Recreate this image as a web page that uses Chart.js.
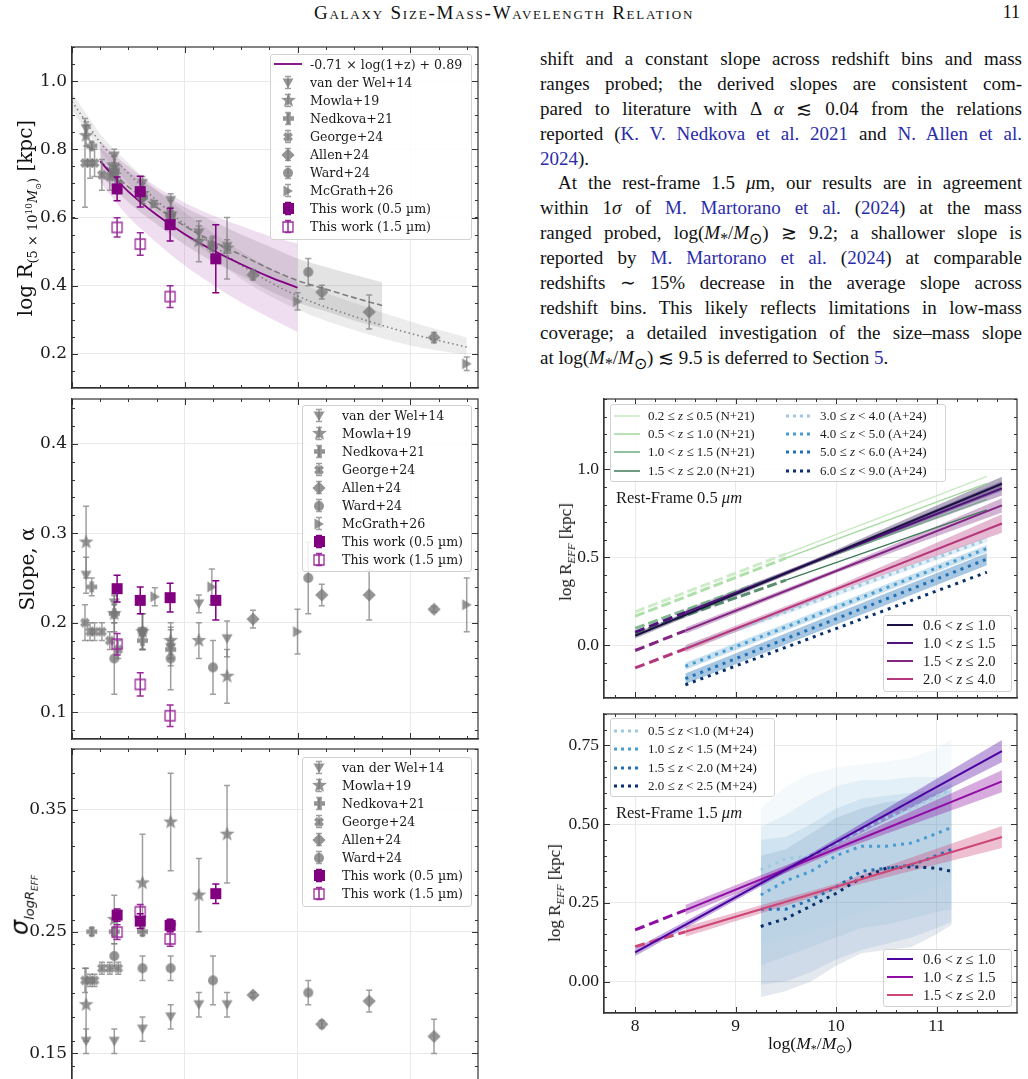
<!DOCTYPE html>
<html><head><meta charset="utf-8">
<script src="https://cdn.jsdelivr.net/npm/chart.js@4.4.1/dist/chart.umd.min.js"></script>
<style>
html,body{margin:0;padding:0;width:1028px;height:1079px;overflow:hidden;background:#fff;}
body{position:relative;font-family:'Liberation Serif',serif;color:#111;}
canvas{position:absolute;}
.abs{position:absolute;white-space:nowrap;}
.legend{position:absolute;background:rgba(255,255,255,0.85);border:1px solid #d2d2d2;border-radius:3px;box-sizing:border-box;}
sub,sup{line-height:0;}
.txt{position:absolute;left:540px;top:47px;width:482px;font-size:19px;line-height:24.9px;font-family:'Liberation Serif',serif;color:#111;}
.txt div{text-align:justify;text-align-last:justify;height:24.9px;}
.txt div.last{text-align-last:left;}
.cite{color:#2b2bab;}
</style></head><body>
<div class="abs" style="left:0;width:1008px;top:2px;text-align:center;font-size:19px;font-variant:small-caps;letter-spacing:1.8px;">Galaxy Size-Mass-Wavelength Relation</div>
<div class="abs" style="right:8px;top:2px;font-size:18px;">11</div>
<div class="txt">
<div>shift and a constant slope across redshift bins and mass</div>
<div>ranges probed; the derived slopes are consistent com-</div>
<div>pared to literature with Δ <i>α</i> ≲ 0.04 from the relations</div>
<div>reported (<span class="cite">K. V. Nedkova et al. 2021</span> and <span class="cite">N. Allen et al.</span></div>
<div class="last"><span class="cite">2024</span>).</div>
<div style="text-indent:18px;">At the rest-frame 1.5 <i>μ</i>m, our results are in agreement</div>
<div>within 1<i>σ</i> of <span class="cite">M. Martorano et al.</span> (<span class="cite">2024</span>) at the mass</div>
<div>ranged probed, log(<i>M</i><sub>*</sub>/<i>M</i><sub>⊙</sub>) ≳ 9.2; a shallower slope is</div>
<div>reported by <span class="cite">M. Martorano et al.</span> (<span class="cite">2024</span>) at comparable</div>
<div>redshifts ∼ 15% decrease in the average slope across</div>
<div>redshift bins. This likely reflects limitations in low-mass</div>
<div>coverage; a detailed investigation of the size–mass slope</div>
<div class="last">at log(<i>M</i><sub>*</sub>/<i>M</i><sub>⊙</sub>) ≲ 9.5 is deferred to Section <span class="cite">5</span>.</div>
</div>
<canvas id="c1" width="490" height="360" style="left:0;top:40px"></canvas>
<canvas id="c2" width="490" height="360" style="left:0;top:392px"></canvas>
<canvas id="c3" width="490" height="360" style="left:0;top:742px"></canvas>
<canvas id="c4" width="488" height="320" style="left:540px;top:392px"></canvas>
<canvas id="c5" width="488" height="340" style="left:540px;top:707px"></canvas>
<script>
// ======================= DATA =======================
// Left panels: x = redshift z
const leftXTicks = [0, 2, 4, 6];
const p1YTicks = [0.2, 0.4, 0.6, 0.8, 1.0];
const p2YTicks = [0.1, 0.2, 0.3, 0.4];
const p3YTicks = [0.15, 0.25, 0.35];

const vdw14_z = [0.25, 0.75, 1.25, 1.75, 2.25, 2.75];
const vdw14_size = [0.86, 0.78, 0.70, 0.65, 0.555, 0.515];
const vdw14_sizeErr = [0.02, 0.02, 0.02, 0.02, 0.02, 0.02];
const vdw14_slope = [0.253, 0.222, 0.19, 0.172, 0.221, 0.182];
const vdw14_slopeErr = [0.02, 0.01, 0.02, 0.02, 0.01, 0.02];
const vdw14_sigma = [0.16, 0.16, 0.17, 0.18, 0.19, 0.19];
const vdw14_sigmaErr = [0.01, 0.01, 0.01, 0.01, 0.01, 0.01];

const mowla19_z = [0.25, 0.75, 1.25, 1.75, 2.25, 2.75];
const mowla19_size = [0.84, 0.75, 0.67, 0.61, 0.53, 0.51];
const mowla19_sizeErr = [0.03, 0.03, 0.03, 0.04, 0.06, 0.09];
const mowla19_slope = [0.29, 0.21, 0.19, 0.18, 0.18, 0.14];
const mowla19_slopeErr = [0.04, 0.02, 0.02, 0.02, 0.02, 0.03];
const mowla19_sigma = [0.19, 0.26, 0.29, 0.34, 0.28, 0.33];
const mowla19_sigmaErr = [0.03, 0.02, 0.04, 0.04, 0.03, 0.04];

const nedkova21_z = [0.35, 0.75, 1.25, 1.75];
const nedkova21_size = [0.81, 0.74, 0.66, 0.61];
const nedkova21_sizeErr = [0.01, 0.01, 0.01, 0.01];
const nedkova21_slope = [0.24, 0.21, 0.18, 0.17];
const nedkova21_slopeErr = [0.01, 0.01, 0.01, 0.01];
const nedkova21_sigma = [0.25, 0.25, 0.25, 0.256];
const nedkova21_sigmaErr = [0.003, 0.003, 0.003, 0.003];

const george24_z = [0.23, 0.32, 0.40, 0.53, 0.67, 0.82];
const george24_size = [0.76, 0.76, 0.76, 0.725, 0.72, 0.70];
const george24_sizeErr = [0.13, 0.045, 0.04, 0.045, 0.04, 0.03];
const george24_slope = [0.20, 0.19, 0.19, 0.19, 0.18, 0.17];
const george24_slopeErr = [0.02, 0.01, 0.01, 0.01, 0.01, 0.01];
const george24_sigma = [0.21, 0.21, 0.21, 0.22, 0.22, 0.22];
const george24_sigmaErr = [0.01, 0.005, 0.005, 0.005, 0.005, 0.005];

const allen24_z = [3.21, 4.43, 5.27, 6.42];
const allen24_size = [0.432, 0.381, 0.323, 0.248];
const allen24_sizeErr = [0.015, 0.02, 0.05, 0.015];
const allen24_slope = [0.204, 0.231, 0.231, 0.215];
const allen24_slopeErr = [0.01, 0.012, 0.028, 0.003];
const allen24_sigma = [0.198, 0.174, 0.193, 0.164];
const allen24_sigmaErr = [0.002, 0.003, 0.009, 0.014];

const ward24_z = [0.75, 1.25, 1.75, 2.5, 4.19];
const ward24_size = [0.73, 0.66, 0.60, 0.515, 0.44];
const ward24_sizeErr = [0.02, 0.02, 0.02, 0.03, 0.04];
const ward24_slope = [0.16, 0.19, 0.16, 0.15, 0.25];
const ward24_slopeErr = [0.04, 0.02, 0.035, 0.03, 0.04];
const ward24_sigma = [0.23, 0.22, 0.22, 0.21, 0.20];
const ward24_sigmaErr = [0.01, 0.01, 0.01, 0.02, 0.01];

const mcgrath26_z = [1.47, 2.48, 4.0, 7.0];
const mcgrath26_size = [0.64, 0.52, 0.354, 0.171];
const mcgrath26_sizeErr = [0.01, 0.02, 0.025, 0.02];
const mcgrath26_slope = [0.229, 0.24, 0.19, 0.22];
const mcgrath26_slopeErr = [0.01, 0.02, 0.025, 0.03];

const tw05_z = [0.8, 1.21, 1.74, 2.55];
const tw05_size = [0.684, 0.676, 0.579, 0.479];
const tw05_sizeErr = [0.035, 0.045, 0.048, 0.1];
const tw05_slope = [0.238, 0.225, 0.228, 0.225];
const tw05_slopeErr = [0.015, 0.015, 0.016, 0.022];
const tw05_sigma = [0.2636, 0.2587, 0.2552, 0.2812];
const tw05_sigmaErr = [0.005, 0.006, 0.005, 0.008];

const tw15_z = [0.8, 1.21, 1.74];
const tw15_size = [0.571, 0.522, 0.368];
const tw15_sizeErr = [0.028, 0.033, 0.032];
const tw15_slope = [0.176, 0.131, 0.096];
const tw15_slopeErr = [0.012, 0.013, 0.012];
const tw15_sigma = [0.2496, 0.2664, 0.244];
const tw15_sigmaErr = [0.006, 0.006, 0.006];

// fit curves in top-left panel
const fitTW_z = [0.5, 0.75, 1, 1.5, 2, 2.5, 3, 3.5, 4];
const fitTW_r = [0.765, 0.718, 0.676, 0.608, 0.551, 0.504, 0.463, 0.426, 0.394];
const fitTW_hi = [0.825, 0.785, 0.75, 0.69, 0.643, 0.606, 0.575, 0.546, 0.524];
const fitTW_lo = [0.705, 0.651, 0.602, 0.526, 0.459, 0.402, 0.351, 0.306, 0.264];
const fitDash_z = [0.5, 1, 1.5, 2, 2.5, 3, 3.5, 4, 4.5, 5, 5.5];
const fitDash_r = [0.765, 0.69, 0.63, 0.575, 0.53, 0.49, 0.45, 0.415, 0.39, 0.365, 0.342];
const fitDash_hi = [0.805, 0.735, 0.68, 0.63, 0.59, 0.55, 0.515, 0.48, 0.455, 0.432, 0.41];
const fitDash_lo = [0.725, 0.645, 0.58, 0.52, 0.47, 0.43, 0.385, 0.35, 0.325, 0.298, 0.276];
const fitDot_z = [0, 0.25, 0.5, 1, 1.5, 2, 2.5, 3, 4, 5, 6, 7];
const fitDot_r = [0.94, 0.88, 0.82, 0.73, 0.65, 0.58, 0.52, 0.46, 0.37, 0.31, 0.26, 0.22];
const fitDot_hi = [0.965, 0.905, 0.845, 0.76, 0.68, 0.615, 0.555, 0.50, 0.41, 0.35, 0.295, 0.248];
const fitDot_lo = [0.915, 0.855, 0.795, 0.70, 0.62, 0.545, 0.485, 0.42, 0.33, 0.27, 0.225, 0.197];

// Right panels: x = log(M*/Msun)
const massTicks = [8, 9, 10, 11];
const rtYTicks = [0.0, 0.5, 1.0];
const rbYTicks = [0.0, 0.25, 0.5, 0.75];

const N21_labels = ['0.2 ≤ <i>z</i> ≤ 0.5 (N+21)', '0.5 &lt; <i>z</i> ≤ 1.0 (N+21)', '1.0 &lt; <i>z</i> ≤ 1.5 (N+21)', '1.5 &lt; <i>z</i> ≤ 2.0 (N+21)'];
const N21_xd = [8.0, 9.5];
const N21_xs = [9.5, 11.5];
const N21_yd = [[0.19, 0.52], [0.165, 0.495], [0.096, 0.41], [0.068, 0.37]];
const N21_ys = [[0.52, 0.96], [0.495, 0.92], [0.41, 0.83], [0.37, 0.77]];

const A24_labels = ['3.0 ≤ <i>z</i> &lt; 4.0 (A+24)', '4.0 ≤ <i>z</i> &lt; 5.0 (A+24)', '5.0 ≤ <i>z</i> &lt; 6.0 (A+24)', '6.0 ≤ <i>z</i> &lt; 9.0 (A+24)'];
const A24_x = [8.5, 11.5];
const A24_y = [[-0.015, 0.60], [-0.12, 0.55], [-0.19, 0.49], [-0.225, 0.415]];
const A24_hi = [[0.0, 0.615], [-0.10, 0.57], [-0.16, 0.525], null];
const A24_lo = [[-0.03, 0.585], [-0.14, 0.53], [-0.22, 0.455], null];

const TW05_labels = ['0.6 &lt; <i>z</i> ≤ 1.0', '1.0 &lt; <i>z</i> ≤ 1.5', '1.5 &lt; <i>z</i> ≤ 2.0', '2.0 &lt; <i>z</i> ≤ 4.0'];
const TW05_x = [[8.0, 9.75, 11.65], [8.5, 10.0, 11.65], [8.5, 10.0, 11.65], [8.5, 10.0, 11.65]];
const TW05_y = [[0.054, 0.468, 0.918], [0.187, 0.523, 0.892], [0.083, 0.422, 0.795], [-0.02, 0.319, 0.692]];
const TW05_hi = [[0.07, 0.48, 0.958], [0.203, 0.535, 0.932], [0.101, 0.434, 0.835], [0.0, 0.334, 0.745]];
const TW05_lo = [[0.038, 0.456, 0.878], [0.171, 0.511, 0.852], [0.065, 0.41, 0.755], [-0.04, 0.304, 0.64]];
const extX = [8.0, 8.5];
const TW05_ext = [null, [0.075, 0.187], [-0.03, 0.083], [-0.129, -0.02]];

const M24_labels = ['0.5 ≤ <i>z</i> &lt;1.0 (M+24)', '1.0 ≤ <i>z</i> &lt; 1.5 (M+24)', '1.5 ≤ <i>z</i> &lt; 2.0 (M+24)', '2.0 ≤ <i>z</i> &lt; 2.5 (M+24)'];
const M24_x = [9.25, 9.5, 9.75, 10.0, 10.25, 10.5, 10.75, 11.0, 11.15];
const M24_y = [
  [0.355, 0.39, 0.40, 0.44, 0.48, 0.52, 0.55, 0.59, 0.61],
  [0.275, 0.32, 0.35, 0.40, 0.43, 0.43, 0.44, 0.47, 0.49],
  [0.23, 0.23, 0.26, 0.30, 0.35, 0.36, 0.37, 0.40, 0.42],
  [0.175, 0.20, 0.24, 0.28, 0.33, 0.36, 0.365, 0.36, 0.35]];
const M24_hi = [
  [0.55, 0.62, 0.66, 0.68, 0.69, 0.70, 0.71, 0.74, 0.77],
  [0.49, 0.53, 0.58, 0.62, 0.64, 0.64, 0.65, 0.65, 0.66],
  [0.45, 0.46, 0.50, 0.55, 0.58, 0.59, 0.60, 0.61, 0.63],
  [0.40, 0.42, 0.47, 0.52, 0.55, 0.57, 0.58, 0.60, 0.61]];
const M24_lo = [
  [0.12, 0.14, 0.16, 0.19, 0.22, 0.25, 0.27, 0.30, 0.32],
  [0.05, 0.08, 0.11, 0.14, 0.17, 0.18, 0.20, 0.22, 0.23],
  [-0.01, 0.0, 0.03, 0.07, 0.10, 0.12, 0.14, 0.17, 0.19],
  [-0.05, -0.03, 0.0, 0.05, 0.09, 0.10, 0.11, 0.15, 0.18]];

const TW15_labels = ['0.6 &lt; <i>z</i> ≤ 1.0', '1.0 &lt; <i>z</i> ≤ 1.5', '1.5 &lt; <i>z</i> ≤ 2.0'];
const TW15_x = [[8.0, 9.8, 11.65], [8.5, 10.0, 11.65], [8.5, 10.0, 11.65]];
const TW15_y = [[0.093, 0.408, 0.732], [0.227, 0.422, 0.636], [0.158, 0.301, 0.459]];
const TW15_hi = [[0.105, 0.416, 0.767], [0.243, 0.432, 0.671], [0.174, 0.311, 0.494]];
const TW15_lo = [[0.081, 0.400, 0.697], [0.211, 0.412, 0.601], [0.142, 0.291, 0.424]];
const TW15_ext = [null, [0.164, 0.227], [0.111, 0.158]];

// ======================= STYLE =======================
const PURPLE = '#800080';
const GREY_FILL = 'rgba(118,118,118,0.78)';
const GREY_ERR = 'rgba(118,118,118,0.7)';
const GREENS = ['#c7e9c0', '#a1d99b', '#6bab7c', '#3e7a57'];
const BLUES = ['#9ecae1', '#4a9bd0', '#2171b5', '#08306b'];
const MAGMA = ['#1c1044', '#4f127b', '#812581', '#b5367a'];
const PLASMA = ['#4c02a1', '#8f0da4', '#cc4778'];
const TICK_FONT_L = {family: 'DejaVu Serif', size: 17};
const TICK_FONT_R = {family: 'Liberation Serif', size: 17.5};

function hexA(hex, a) {
  const n = parseInt(hex.slice(1), 16);
  return 'rgba(' + (n >> 16) + ',' + ((n >> 8) & 255) + ',' + (n & 255) + ',' + a + ')';
}
function shapePath(ctx, shape, x, y, s) {
  ctx.beginPath();
  if (shape === 'tdown') {
    ctx.moveTo(x - s * 0.55, y - s * 0.45); ctx.lineTo(x + s * 0.55, y - s * 0.45); ctx.lineTo(x, y + s * 0.5); ctx.closePath();
  } else if (shape === 'tright') {
    ctx.moveTo(x - s * 0.45, y - s * 0.55); ctx.lineTo(x - s * 0.45, y + s * 0.55); ctx.lineTo(x + s * 0.5, y); ctx.closePath();
  } else if (shape === 'star') {
    const R = s * 0.6, r = R * 0.42;
    for (let i = 0; i < 10; i++) {
      const a = -Math.PI / 2 + i * Math.PI / 5, rr = i % 2 ? r : R;
      const px = x + rr * Math.cos(a), py = y + rr * Math.sin(a);
      if (i) ctx.lineTo(px, py); else ctx.moveTo(px, py);
    }
    ctx.closePath();
  } else if (shape === 'plus' || shape === 'xx') {
    const a = s * 0.5, t = s * 0.2;
    const pts = [[-t, -a], [t, -a], [t, -t], [a, -t], [a, t], [t, t], [t, a], [-t, a], [-t, t], [-a, t], [-a, -t], [-t, -t]];
    const ang = shape === 'xx' ? Math.PI / 4 : 0, c = Math.cos(ang), sn = Math.sin(ang);
    pts.forEach((p, i) => {
      const px = x + p[0] * c - p[1] * sn, py = y + p[0] * sn + p[1] * c;
      if (i) ctx.lineTo(px, py); else ctx.moveTo(px, py);
    });
    ctx.closePath();
  } else if (shape === 'diamond') {
    ctx.moveTo(x, y - s * 0.55); ctx.lineTo(x + s * 0.55, y); ctx.lineTo(x, y + s * 0.55); ctx.lineTo(x - s * 0.55, y); ctx.closePath();
  } else if (shape === 'circle') {
    ctx.arc(x, y, s / 2, 0, Math.PI * 2);
  } else if (shape === 'square') {
    ctx.rect(x - s / 2, y - s / 2, s, s);
  }
}
function markerCanvas(shape, s, fill, stroke, lw) {
  const c = document.createElement('canvas');
  const n = Math.ceil(s + 4); c.width = n; c.height = n;
  const ctx = c.getContext('2d');
  shapePath(ctx, shape, n / 2, n / 2, s);
  if (fill) { ctx.fillStyle = fill; ctx.fill(); }
  if (stroke) { ctx.strokeStyle = stroke; ctx.lineWidth = lw; ctx.stroke(); }
  return c;
}
const MK = {
  tdown: markerCanvas('tdown', 10, GREY_FILL),
  star: markerCanvas('star', 13, GREY_FILL),
  plus: markerCanvas('plus', 11, GREY_FILL),
  xx: markerCanvas('xx', 10, GREY_FILL),
  diamond: markerCanvas('diamond', 12, GREY_FILL),
  circle: markerCanvas('circle', 10, GREY_FILL),
  tright: markerCanvas('tright', 10, GREY_FILL),
  sqFill: markerCanvas('square', 11, PURPLE),
  sqOpen: markerCanvas('square', 10, null, '#9a2a9a', 1.3)
};

// ======================= PLUGINS =======================
const errBars = {
  id: 'errbars',
  beforeDatasetDraw(chart, args) {
    const ds = chart.data.datasets[args.index];
    if (!ds.yerr) return;
    const ctx = chart.ctx, xs = chart.scales.x, ys = chart.scales.y, a = chart.chartArea;
    ctx.save();
    ctx.beginPath(); ctx.rect(a.left, a.top, a.right - a.left, a.bottom - a.top); ctx.clip();
    ctx.strokeStyle = ds.errColor; ctx.lineWidth = ds.errWidth || 1.5;
    const c = ds.capSize || 3;
    ds.data.forEach((p, i) => {
      const e = ds.yerr[i];
      const px = xs.getPixelForValue(p.x);
      const y1 = ys.getPixelForValue(p.y - e), y2 = ys.getPixelForValue(p.y + e);
      ctx.beginPath();
      ctx.moveTo(px, y1); ctx.lineTo(px, y2);
      ctx.moveTo(px - c, y1); ctx.lineTo(px + c, y1);
      ctx.moveTo(px - c, y2); ctx.lineTo(px + c, y2);
      ctx.stroke();
    });
    ctx.restore();
  }
};
const inTicks = {
  id: 'inticks',
  afterDraw(chart, args, opts) {
    const ctx = chart.ctx, a = chart.chartArea, xs = chart.scales.x, ys = chart.scales.y;
    ctx.save();
    ctx.strokeStyle = '#333'; ctx.lineWidth = 1;
    const seg = (x1, y1, x2, y2) => { ctx.beginPath(); ctx.moveTo(x1, y1); ctx.lineTo(x2, y2); ctx.stroke(); };
    const xt = (v, L) => { const p = Math.round(xs.getPixelForValue(v)) + 0.5; if (p < a.left || p > a.right) return; seg(p, a.bottom, p, a.bottom - L); seg(p, a.top, p, a.top + L); };
    const yt = (v, L) => { const p = Math.round(ys.getPixelForValue(v)) + 0.5; if (p < a.top || p > a.bottom) return; seg(a.left, p, a.left + L, p); seg(a.right, p, a.right - L, p); };
    const n0x = Math.ceil(xs.min / opts.xMinor - 1e-9), n1x = Math.floor(xs.max / opts.xMinor + 1e-9);
    for (let k = n0x; k <= n1x; k++) xt(k * opts.xMinor, 3);
    const n0y = Math.ceil(ys.min / opts.yMinor - 1e-9), n1y = Math.floor(ys.max / opts.yMinor + 1e-9);
    for (let k = n0y; k <= n1y; k++) yt(k * opts.yMinor, 3);
    xs.ticks.forEach(t => xt(t.value, 6));
    ys.ticks.forEach(t => yt(t.value, 6));
    ctx.strokeStyle = '#333'; ctx.lineWidth = 1.2;
    ctx.strokeRect(a.left, a.top, a.right - a.left, a.bottom - a.top);
    ctx.restore();
  }
};
Chart.register(errBars, inTicks);

// ======================= HELPERS =======================
function pts(xs, ys) { return xs.map((x, i) => ({x: x, y: ys[i]})); }
function lineDS(xs, ys, color, width, dash, order, smooth) {
  return {type: 'line', data: pts(xs, ys), borderColor: color, borderWidth: width, borderDash: dash || [],
    borderCapStyle: 'butt', pointRadius: 0, fill: false, order: order,
    cubicInterpolationMode: smooth ? 'monotone' : 'default', tension: 0};
}
function bandDS(xs, hi, lo, color, order, smooth) {
  const m = smooth ? 'monotone' : 'default';
  return [
    {type: 'line', data: pts(xs, hi), borderColor: 'rgba(0,0,0,0)', borderWidth: 1, pointRadius: 0, fill: false, order: order, cubicInterpolationMode: m},
    {type: 'line', data: pts(xs, lo), borderColor: 'rgba(0,0,0,0)', borderWidth: 1, pointRadius: 0, fill: '-1', backgroundColor: color, order: order, cubicInterpolationMode: m}
  ];
}
function scatterDS(xs, ys, errs, marker, errColor, order, cap) {
  return {type: 'line', showLine: false, data: pts(xs, ys), pointStyle: marker, pointRadius: 5, pointHoverRadius: 5,
    yerr: errs, errColor: errColor, capSize: cap || 3, order: order,
    borderColor: 'rgba(0,0,0,0)', backgroundColor: 'rgba(0,0,0,0)'};
}
function axis(o, which) {
  const isX = which === 'x';
  return {
    type: 'linear', min: isX ? o.xMin : o.yMin, max: isX ? o.xMax : o.yMax,
    afterBuildTicks: s => { s.ticks = (isX ? o.xTicks : o.yTicks).map(v => ({value: v})); },
    afterFit: s => {
      if (isX) { s.height = o.xH; s.paddingLeft = 0; s.paddingRight = 0; }
      else { s.width = o.yW; s.paddingTop = 0; s.paddingBottom = 0; }
    },
    ticks: {display: isX ? !!o.xLabels : true, font: o.font, color: '#1a1a1a', padding: isX ? 3 : 5, autoSkip: false, maxRotation: 0,
      callback: v => isX ? String(v) : v.toFixed(o.yDec)},
    grid: {color: '#e8e8e8', lineWidth: 0.9, drawTicks: false},
    border: {display: true, color: '#333', width: 1.2}
  };
}
function makeChart(id, o, datasets) {
  return new Chart(document.getElementById(id), {
    type: 'line',
    data: {datasets: datasets},
    options: {
      responsive: false, animation: false, events: [],
      layout: {padding: {top: o.padTop, right: o.padRight, left: 0, bottom: 0}},
      plugins: {legend: {display: false}, tooltip: {enabled: false}, inticks: {xMinor: o.xMinor, yMinor: o.yMinor}},
      scales: {x: axis(o, 'x'), y: axis(o, 'y')}
    }
  });
}

// ======================= LEFT PANELS =======================
const lit = [
  {name: 'van der Wel+14', mk: 'tdown', z: vdw14_z, size: vdw14_size, sizeErr: vdw14_sizeErr, slope: vdw14_slope, slopeErr: vdw14_slopeErr, sigma: vdw14_sigma, sigmaErr: vdw14_sigmaErr},
  {name: 'Mowla+19', mk: 'star', z: mowla19_z, size: mowla19_size, sizeErr: mowla19_sizeErr, slope: mowla19_slope, slopeErr: mowla19_slopeErr, sigma: mowla19_sigma, sigmaErr: mowla19_sigmaErr},
  {name: 'Nedkova+21', mk: 'plus', z: nedkova21_z, size: nedkova21_size, sizeErr: nedkova21_sizeErr, slope: nedkova21_slope, slopeErr: nedkova21_slopeErr, sigma: nedkova21_sigma, sigmaErr: nedkova21_sigmaErr},
  {name: 'George+24', mk: 'xx', z: george24_z, size: george24_size, sizeErr: george24_sizeErr, slope: george24_slope, slopeErr: george24_slopeErr, sigma: george24_sigma, sigmaErr: george24_sigmaErr},
  {name: 'Allen+24', mk: 'diamond', z: allen24_z, size: allen24_size, sizeErr: allen24_sizeErr, slope: allen24_slope, slopeErr: allen24_slopeErr, sigma: allen24_sigma, sigmaErr: allen24_sigmaErr},
  {name: 'Ward+24', mk: 'circle', z: ward24_z, size: ward24_size, sizeErr: ward24_sizeErr, slope: ward24_slope, slopeErr: ward24_slopeErr, sigma: ward24_sigma, sigmaErr: ward24_sigmaErr},
  {name: 'McGrath+26', mk: 'tright', z: mcgrath26_z, size: mcgrath26_size, sizeErr: mcgrath26_sizeErr, slope: mcgrath26_slope, slopeErr: mcgrath26_slopeErr, sigma: null, sigmaErr: null}
];
function leftDatasets(key) {
  const out = [];
  lit.forEach((L, i) => { if (L[key]) out.push(scatterDS(L.z, L[key], L[key + 'Err'], MK[L.mk], GREY_ERR, 20 - i, 3)); });
  const tw05 = {size: [tw05_size, tw05_sizeErr], slope: [tw05_slope, tw05_slopeErr], sigma: [tw05_sigma, tw05_sigmaErr]}[key];
  const tw15 = {size: [tw15_size, tw15_sizeErr], slope: [tw15_slope, tw15_slopeErr], sigma: [tw15_sigma, tw15_sigmaErr]}[key];
  out.push(scatterDS(tw15_z, tw15[0], tw15[1], MK.sqOpen, '#9a2a9a', 2, 3.5));
  out.push(scatterDS(tw05_z, tw05[0], tw05[1], MK.sqFill, PURPLE, 1, 3.5));
  return out;
}
const leftBase = {xMin: 0, xMax: 7.2, xTicks: leftXTicks, xMinor: 0.5, yW: 72, padRight: 12, padTop: 7, font: TICK_FONT_L, xLabels: false};

const p1ds = [].concat(
  bandDS(fitDot_z, fitDot_hi, fitDot_lo, 'rgba(140,140,140,0.17)', 40, true),
  bandDS(fitDash_z, fitDash_hi, fitDash_lo, 'rgba(128,128,128,0.22)', 39, true),
  bandDS(fitTW_z, fitTW_hi, fitTW_lo, 'rgba(128,0,128,0.13)', 38, true),
  [lineDS(fitDot_z, fitDot_r, 'rgba(120,120,120,0.9)', 1.6, [1.5, 3], 32, true),
   lineDS(fitDash_z, fitDash_r, 'rgba(120,120,120,0.95)', 1.6, [6, 3], 31, true),
   lineDS(fitTW_z, fitTW_r, PURPLE, 1.8, [], 30, true)],
  leftDatasets('size'));
makeChart('c1', Object.assign({}, leftBase, {yMin: 0.1, yMax: 1.1, yTicks: p1YTicks, yMinor: 0.05, yDec: 1, xH: 12}), p1ds);
makeChart('c2', Object.assign({}, leftBase, {yMin: 0.07, yMax: 0.45, yTicks: p2YTicks, yMinor: 0.02, yDec: 1, xH: 13}), leftDatasets('slope'));
makeChart('c3', Object.assign({}, leftBase, {yMin: 0.12, yMax: 0.40, yTicks: p3YTicks, yMinor: 0.02, yDec: 2, xH: 12}), leftDatasets('sigma'));

// ======================= RIGHT PANELS =======================
const rightBase = {xMin: 7.69, xMax: 11.8, xTicks: massTicks, xMinor: 0.2, yW: 64, padRight: 11, padTop: 7, font: TICK_FONT_R};
const rtds = [];
A24_y.forEach((y, i) => { if (A24_hi[i]) rtds.push(...bandDS(A24_x, A24_hi[i], A24_lo[i], hexA(BLUES[i], i === 2 ? 0.4 : 0.3), 60 + i)); });
TW05_y.forEach((y, i) => rtds.push(...bandDS(TW05_x[i], TW05_hi[i], TW05_lo[i], hexA(MAGMA[i], 0.35), 50 + i)));
N21_yd.forEach((y, i) => {
  rtds.push(lineDS(N21_xd, y, hexA(GREENS[i], 0.85), 3, [10, 4], 40 + i));
  rtds.push(lineDS(N21_xs, N21_ys[i], GREENS[i], 1.3, [], 40 + i));
});
A24_y.forEach((y, i) => rtds.push(lineDS(A24_x, y, BLUES[i], 3, [3, 5], 30 + i)));
TW05_y.forEach((y, i) => {
  if (TW05_ext[i]) rtds.push(lineDS(extX, TW05_ext[i], MAGMA[i], 3, [10, 5], 20 + i));
  rtds.push(lineDS(TW05_x[i], y, MAGMA[i], 2, [], 20 + i));
});
makeChart('c4', Object.assign({}, rightBase, {yMin: -0.3, yMax: 1.4, yTicks: rtYTicks, yMinor: 0.1, yDec: 1, xH: 14, xLabels: false}), rtds);

const rbds = [];
M24_y.forEach((y, i) => rbds.push(...bandDS(M24_x, M24_hi[i], M24_lo[i], hexA(BLUES[i], 0.11), 60 + i)));
TW15_y.forEach((y, i) => rbds.push(...bandDS(TW15_x[i], TW15_hi[i], TW15_lo[i], hexA(PLASMA[i], 0.35), 50 + i)));
M24_y.forEach((y, i) => rbds.push(lineDS(M24_x, y, BLUES[i], 3, [3, 5], 30 + i)));
TW15_y.forEach((y, i) => {
  if (TW15_ext[i]) rbds.push(lineDS(extX, TW15_ext[i], PLASMA[i], 3, [10, 5], 20 + i));
  rbds.push(lineDS(TW15_x[i], y, PLASMA[i], 2, [], 20 + i));
});
makeChart('c5', Object.assign({}, rightBase, {yMin: -0.1, yMax: 0.85, yTicks: rbYTicks, yMinor: 0.05, yDec: 2, xH: 34, xLabels: true}), rbds);

// ======================= HTML LEGENDS & LABELS =======================
function el(html, css) { const d = document.createElement('div'); d.className = 'abs'; d.innerHTML = html; Object.assign(d.style, css); document.body.appendChild(d); return d; }
function box(l, t, w, h) { const d = document.createElement('div'); d.className = 'legend'; Object.assign(d.style, {left: l + 'px', top: t + 'px', width: w + 'px', height: h + 'px'}); document.body.appendChild(d); }
function glyph(cx, cy, w, h, fn) { const c = document.createElement('canvas'); c.width = w; c.height = h; c.style.left = (cx - w / 2) + 'px'; c.style.top = (cy - h / 2) + 'px'; document.body.appendChild(c); fn(c.getContext('2d'), w, h); }
function label(x, cy, html, font) { el(html, {left: x + 'px', top: cy + 'px', transform: 'translateY(-50%)', font: font, color: '#1a1a1a'}); }
function errGlyph(mk, col) {
  return (ctx, w, h) => {
    ctx.strokeStyle = col; ctx.lineWidth = 1.5; ctx.beginPath();
    ctx.moveTo(w / 2, 2); ctx.lineTo(w / 2, h - 2);
    ctx.moveTo(w / 2 - 3, 2.5); ctx.lineTo(w / 2 + 3, 2.5);
    ctx.moveTo(w / 2 - 3, h - 2.5); ctx.lineTo(w / 2 + 3, h - 2.5); ctx.stroke();
    ctx.drawImage(mk, Math.round((w - mk.width) / 2), Math.round((h - mk.height) / 2));
  };
}
function lineGlyph(col, lw, dash) {
  return (ctx, w, h) => { ctx.strokeStyle = col; ctx.lineWidth = lw; ctx.setLineDash(dash || []); ctx.beginPath(); ctx.moveTo(1, h / 2); ctx.lineTo(w - 1, h / 2); ctx.stroke(); };
}
const LFONT = "12.6px 'DejaVu Serif'";
function leftLegend(l, t, w, h, firstY, mx, tx, withFit, withMcG) {
  box(l, t, w, h);
  let y = firstY;
  if (withFit) { glyph(mx, y, 30, 8, lineGlyph(PURPLE, 1.8)); label(tx, y, '-0.71 × log(1+z) + 0.89', LFONT); y += 18; }
  lit.forEach(L => {
    if (L.name === 'McGrath+26' && !withMcG) return;
    glyph(mx, y, 20, 17, errGlyph(MK[L.mk], GREY_ERR)); label(tx, y, L.name, LFONT); y += 18;
  });
  glyph(mx, y, 20, 17, errGlyph(MK.sqFill, PURPLE)); label(tx, y, 'This work (0.5 µm)', LFONT); y += 18;
  glyph(mx, y, 20, 17, errGlyph(MK.sqOpen, '#9a2a9a')); label(tx, y, 'This work (1.5 µm)', LFONT);
}
leftLegend(270, 54, 202, 186, 64, 288, 310, true, true);
leftLegend(302, 405, 170, 167, 415, 319, 342, false, true);
leftLegend(302, 757, 170, 150, 767, 319, 342, false, false);

const RF = "13px 'Liberation Serif'";
const RF2 = "14.5px 'Liberation Serif'";
// top-right legends
box(610, 404, 336, 78);
N21_labels.forEach((t, i) => { glyph(627, 416 + i * 18.2, 28, 6, lineGlyph(GREENS[i], 1.5)); label(648, 416 + i * 18.2, t, RF); });
A24_labels.forEach((t, i) => { glyph(799, 416 + i * 18.2, 28, 6, lineGlyph(BLUES[i], 3, [3, 4])); label(820, 416 + i * 18.2, t, RF); });
box(883, 615, 129, 77);
TW05_labels.forEach((t, i) => { glyph(900, 625 + i * 18, 28, 6, lineGlyph(MAGMA[i], 2)); label(923, 625 + i * 18, t, RF2); });
label(616, 498, 'Rest-Frame 0.5 <i>μm</i>', "16.5px 'Liberation Serif'");
// bottom-right legends
box(610, 718, 165, 79);
M24_labels.forEach((t, i) => { glyph(627, 730.7 + i * 18.4, 28, 6, lineGlyph(BLUES[i], 3, [3, 4])); label(648, 730.7 + i * 18.4, t, RF); });
box(883, 949, 129, 58);
TW15_labels.forEach((t, i) => { glyph(900, 959 + i * 18, 28, 6, lineGlyph(PLASMA[i], 2)); label(923, 959 + i * 18, t, RF2); });
label(616, 813, 'Rest-Frame 1.5 <i>μm</i>', "16.5px 'Liberation Serif'");

// axis titles
function vlabel(cx, cy, html, font) { el(html, {left: cx + 'px', top: cy + 'px', transform: 'translate(-50%,-50%) rotate(-90deg)', font: font, color: '#111'}); }
vlabel(26, 218, 'log R<sub style="font-size:13px">(5 × 10<sup style="font-size:9px">10</sup><i>M</i><sub style="font-size:8px">⊙</sub>)</sub> [kpc]', "20px 'DejaVu Serif'");
vlabel(27, 569, 'Slope, α', "20px 'DejaVu Serif'");
vlabel(20, 905, '<i style="font-family:\'DejaVu Sans\'">σ</i><sub style="font-size:13px;font-family:\'DejaVu Sans\'"><i>logR</i><sub style="font-size:9px"><i>EFF</i></sub></sub>', "24px 'DejaVu Serif'");
vlabel(566, 552, 'log R<sub style="font-size:11px"><i>EFF</i></sub> [kpc]', "17px 'Liberation Serif'");
vlabel(555, 893, 'log R<sub style="font-size:11px"><i>EFF</i></sub> [kpc]', "17px 'Liberation Serif'");
el('log(<i>M</i><sub style="font-size:12px">*</sub>/<i>M</i><sub style="font-size:12px">⊙</sub>)', {left: '810px', top: '1043px', transform: 'translate(-50%,-50%)', font: "17.5px 'Liberation Serif'", color: '#111'});
</script>
</body></html>
